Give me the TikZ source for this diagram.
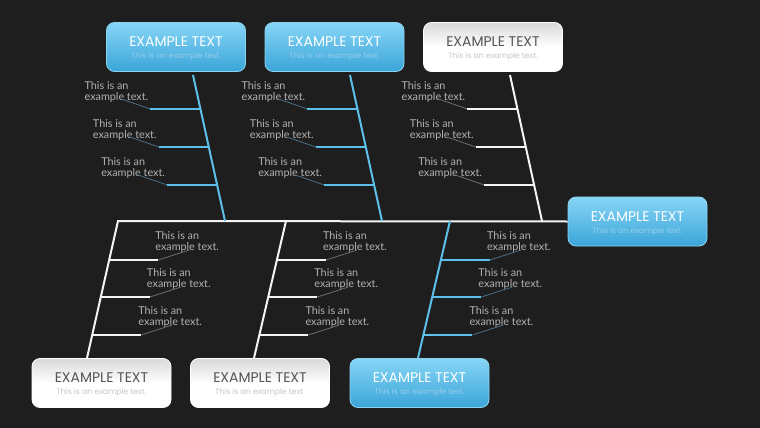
\documentclass[tikz,border=0pt]{standalone}
\usepackage{fontspec}
\setmainfont{Lato}
\newfontfamily\fbTitle{Poppins}
\usetikzlibrary{calc}
\definecolor{fbBg}{HTML}{1E1E1E}
\definecolor{fbBlue}{HTML}{5CC0EA}
\definecolor{fbWhite}{HTML}{F4F4F4}
\definecolor{fbNote}{HTML}{B2B2B2}
\definecolor{fbLeadB}{HTML}{4A7088}
\definecolor{fbLeadW}{HTML}{6E6E6E}
\definecolor{fbBoxTop}{HTML}{86D5F6}
\definecolor{fbBoxBot}{HTML}{3BA5D9}
\definecolor{fbSubB}{HTML}{94CEEA}
\definecolor{fbSubW}{HTML}{C6C6C6}
\definecolor{fbTitW}{HTML}{555555}
\newcommand{\fbLabel}[1]{\rule{0pt}{13.5pt}EXAMPLE TEXT\\[-3pt]{\fontsize{7.8}{9}\selectfont\color{#1}This is an example text.}}

\begin{document}
\begin{tikzpicture}[x=1pt,y=-1pt,
    blueBx/.style={rectangle,rounded corners=8pt,draw=fbBlue!70!white,line width=0.8pt,top color=fbBoxTop,bottom color=fbBoxBot,minimum width=139pt,minimum height=49pt,align=center,text=white,font=\fbTitle\fontsize{14}{15}\selectfont},
    whiteBx/.style={rectangle,rounded corners=8pt,draw=white,line width=0.8pt,top color=gray!30,bottom color=white,middle color=white,minimum width=139pt,minimum height=49pt,align=center,text=fbTitW,font=\fbTitle\fontsize{14}{15}\selectfont},
    note/.style={anchor=north west,inner sep=0pt,align=left,text=fbNote,font=\fontsize{10.8}{11}\selectfont},
    bone/.style={line width=2pt},
    leader/.style={line width=0.8pt},
]
\useasboundingbox[fill=fbBg] (0,0) rectangle (760,428);
\node[blueBx] (T1) at (176,47) {\fbLabel{fbSubB}};
\node[blueBx] (T2) at (334.5,47) {\fbLabel{fbSubB}};
\node[whiteBx] (T3) at (493,47) {\fbLabel{fbSubW}};
\node[blueBx] (R) at (637.5,221.5) {\fbLabel{fbSubB}};
\node[whiteBx] (B1) at (101.5,383) {\fbLabel{fbSubW}};
\node[whiteBx] (B2) at (260,383) {\fbLabel{fbSubW}};
\node[blueBx] (B3) at (419.5,383) {\fbLabel{fbSubB}};
% spine
\coordinate (spL) at (117,221);
\draw[bone,fbWhite] (spL) -- (R.west);
% upper bones
\foreach \n/\xa/\xb/\col/\lc in {1/193/225/fbBlue/fbLeadB,2/350/382/fbBlue/fbLeadB,3/510/542/fbWhite/fbLeadW} {
  \coordinate (ta\n) at (\xa,75);
  \coordinate (tb\n) at (\xb,221);
  \draw[bone,\col] (ta\n) -- (tb\n);
  \foreach \k/\t in {1/0.233,2/0.493,3/0.753} {
    \coordinate (tr\n\k) at ($(ta\n)!\t!(tb\n)$);
    \coordinate (tl\n\k) at ($(tr\n\k)+(-50,0)$);
    \node[note] (tn\n\k) at ($(tl\n\k)+(-66,-28)$) {This is an\\example text.};
    \coordinate (tq\n\k) at ($(tl\n\k)+(-29,-10)$);
    \draw[leader,\lc] (tq\n\k) -- (tl\n\k);
    \draw[bone,\col] (tl\n\k) -- (tr\n\k);
  }
}
% lower bones
\foreach \n/\xa/\xb/\col/\lc in {1/118/87/fbWhite/fbLeadW,2/286/254/fbWhite/fbLeadW,3/450/418/fbBlue/fbLeadB} {
  \coordinate (ba\n) at (\xa,221);
  \coordinate (bb\n) at (\xb,358);
  \draw[bone,\col] (ba\n) -- (bb\n);
  \foreach \k/\t in {1/0.285,2/0.555,3/0.832} {
    \coordinate (bl\n\k) at ($(ba\n)!\t!(bb\n)$);
    \coordinate (br\n\k) at ($(bl\n\k)+(49,0)$);
    \node[note] (bn\n\k) at ($(br\n\k)+(-3,-29)$) {This is an\\example text.};
    \coordinate (bq\n\k) at ($(br\n\k)+(31,-10)$);
    \draw[leader,\lc] (br\n\k) -- (bq\n\k);
    \draw[bone,\col] (bl\n\k) -- (br\n\k);
  }
}
\end{tikzpicture}
\end{document}
